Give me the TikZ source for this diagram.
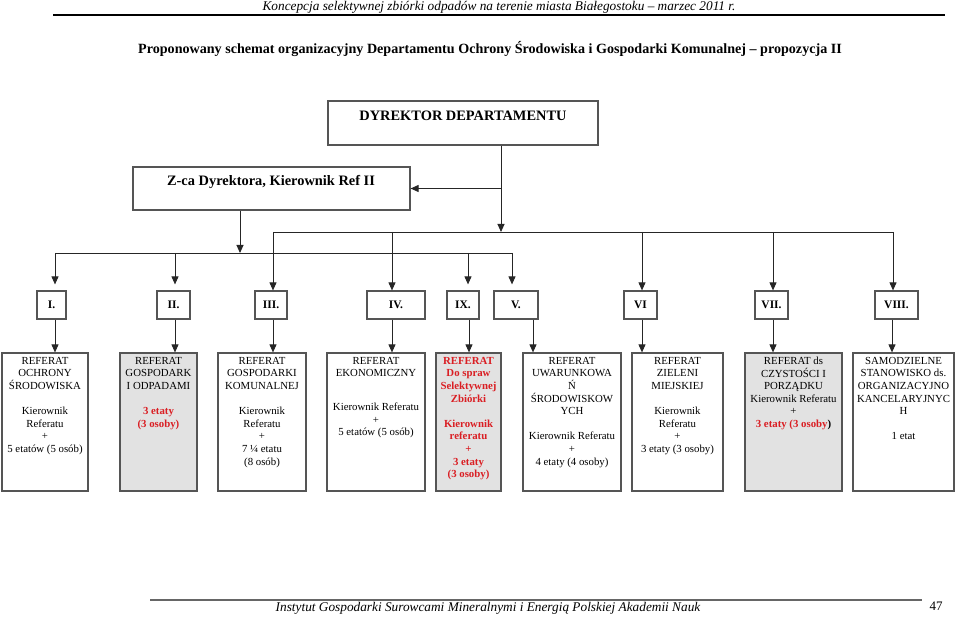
\documentclass[tikz,border=0pt]{standalone}
\usepackage{fontspec}
\setmainfont{Liberation Serif}
\usetikzlibrary{arrows.meta}
\definecolor{redt}{RGB}{218,30,35}
\definecolor{greyf}{RGB}{226,226,226}
\definecolor{edgec}{RGB}{85,85,85}
\tikzset{
  box/.style={draw=edgec,line width=1.2pt,inner sep=0pt,anchor=center},
  lvl/.style={box,minimum height=28pt,font=\fontsize{11.5}{13}\selectfont\bfseries},
  big/.style={box,minimum height=138pt},
  top/.style={box,minimum height=44pt,font=\fontsize{14.4}{16}\selectfont\bfseries},
  txt/.style={anchor=north,align=center,inner sep=0pt,font=\fontsize{10.8}{12.6}\selectfont},
  rtxt/.style={txt,text=redt,font=\fontsize{10.8}{12.6}\selectfont\bfseries},
  arr/.style={draw=black!85,line width=0.9pt,-{Triangle[width=7pt,length=8pt]}},
  ln/.style={draw=black!85,line width=0.9pt},
}
\newcommand\dn[3]{\draw[arr] ([xshift=#3pt]#1.south) -- ([xshift=#3pt]#1.south |- #2.north);}
\begin{document}
\begin{tikzpicture}[x=1pt,y=-1pt]
\useasboundingbox (0,0) rectangle (960,617);
% header
\node[inner sep=0pt,font=\fontsize{13.3}{15}\selectfont\itshape] (hdr) at (499,7) {Koncepcja selektywnej zbiórki odpadów na terenie miasta Białegostoku – marzec 2011 r.};
\draw[line width=1.3pt] (53,15) -- (945,15);
\node[inner sep=0pt,font=\fontsize{14.1}{16}\selectfont\bfseries] (title) at (490,49) {Proponowany schemat organizacyjny Departamentu Ochrony Środowiska i Gospodarki Komunalnej – propozycja II};
% top boxes
\node[top,minimum width=270pt] (dyr) at (463,123) {};
\node[inner sep=0pt,font=\fontsize{14.4}{16}\selectfont\bfseries] (dyrt) at (463,116) {DYREKTOR DEPARTAMENTU};
\node[top,minimum width=277pt,minimum height=43pt] (zca) at (271.5,188.5) {};
\node[inner sep=0pt,font=\fontsize{14.4}{16}\selectfont\bfseries] (zcat) at (271,182) {Z-ca Dyrektora, Kierownik Ref II};
% bus coordinates
\coordinate (br) at (501,188.5);
\coordinate (busU) at (501,232);
\coordinate (uL) at (273,232);
\coordinate (uR) at (893,232);
\coordinate (zd) at (240,253);
\coordinate (lL) at (55,253);
\coordinate (lR) at (512,253);
% level boxes
\node[lvl,minimum width=29pt] (l1) at (51.5,305) {I.};
\node[lvl,minimum width=33pt] (l2) at (173.5,305) {II.};
\node[lvl,minimum width=32pt] (l3) at (271,305) {III.};
\node[lvl,minimum width=58pt] (l4) at (396,305) {IV.};
\node[lvl,minimum width=32pt] (l5) at (463,305) {IX.};
\node[lvl,minimum width=44pt] (l6) at (516,305) {V.};
\node[lvl,minimum width=33pt] (l7) at (640.5,305) {VI};
\node[lvl,minimum width=33pt] (l8) at (771.5,305) {VII.};
\node[lvl,minimum width=43pt] (l9) at (896.5,305) {VIII.};
% big boxes
\node[big,minimum width=86pt] (b1) at (45,422) {};
\node[big,minimum width=77pt,fill=greyf] (b2) at (158.5,422) {};
\node[big,minimum width=88pt] (b3) at (262,422) {};
\node[big,minimum width=98pt] (b4) at (376,422) {};
\node[big,minimum width=65pt,fill=greyf] (b5) at (468.5,422) {};
\node[big,minimum width=98pt] (b6) at (572,422) {};
\node[big,minimum width=91pt] (b7) at (677.5,422) {};
\node[big,minimum width=97pt,fill=greyf] (b8) at (793.5,422) {};
\node[big,minimum width=101pt] (b9) at (903.5,422) {};
% texts
\node[txt] (t1) at ([yshift=-4.5pt]b1.north) {REFERAT\\OCHRONY\\ŚRODOWISKA\\[12.6pt]Kierownik\\Referatu\\+\\5 etatów (5 osób)};
\node[txt] (t2) at ([yshift=-4.5pt]b2.north) {REFERAT\\GOSPODARK\\I ODPADAMI\\[12.6pt]{\color{redt}\bfseries 3 etaty}\\{\color{redt}\bfseries (3 osoby)}};
\node[txt] (t3) at ([yshift=-4.5pt]b3.north) {REFERAT\\GOSPODARKI\\KOMUNALNEJ\\[12.6pt]Kierownik\\Referatu\\+\\7 ¼ etatu\\(8 osób)};
\node[txt] (t4) at ([yshift=-4.5pt]b4.north) {REFERAT\\EKONOMICZNY\\[21pt]Kierownik Referatu\\+\\5 etatów (5 osób)};
\node[rtxt] (t5) at ([yshift=-4.5pt]b5.north) {REFERAT\\Do spraw\\Selektywnej\\Zbiórki\\[12.6pt]Kierownik\\referatu\\+\\3 etaty\\(3 osoby)};
\node[txt] (t6) at ([yshift=-4.5pt]b6.north) {REFERAT\\UWARUNKOWA\\Ń\\ŚRODOWISKOW\\YCH\\[12.6pt]Kierownik Referatu\\+\\4 etaty (4 osoby)};
\node[txt] (t7) at ([yshift=-4.5pt]b7.north) {REFERAT\\ZIELENI\\MIEJSKIEJ\\[12.6pt]Kierownik\\Referatu\\+\\3 etaty (3 osoby)};
\node[txt] (t8) at ([yshift=-4.5pt]b8.north) {REFERAT ds\\CZYSTOŚCI I\\PORZĄDKU\\Kierownik Referatu\\+\\{\bfseries\color{redt}3 etaty (3 osoby}{\bfseries )}};
\node[txt] (t9) at ([yshift=-4.5pt]b9.north) {SAMODZIELNE\\STANOWISKO ds.\\ORGANIZACYJNO\\KANCELARYJNYC\\H\\[12.6pt]1 etat};
% connectors top
\draw[arr] (dyr.south -| busU) -- (busU);
\draw[arr] (br) -- (zca.east);
\draw[arr] (zca.south -| zd) -- (zd);
\draw[ln] (uL) -- (uR);
\draw[ln] (lL) -- (lR);
% lower bus drops
\draw[arr,shorten >=6pt] (lL) -- (lL |- l1.north);
\draw[arr,shorten >=6pt] ([xshift=1.5pt]l2.north |- lL) -- ([xshift=1.5pt]l2.north);
\draw[arr,shorten >=6pt] ([xshift=5pt]l5.north |- lL) -- ([xshift=5pt]l5.north);
\draw[arr,shorten >=6pt] (lR) -- (lR |- l6.north);
% upper bus drops
\draw[arr] (uL) -- (uL |- l3.north);
\draw[arr] ([xshift=-4pt]l4.north |- uL) -- ([xshift=-4pt]l4.north);
\draw[arr] ([xshift=1.5pt]l7.north |- uL) -- ([xshift=1.5pt]l7.north);
\draw[arr] ([xshift=1.5pt]l8.north |- uL) -- ([xshift=1.5pt]l8.north);
\draw[arr] (uR) -- (uR |- l9.north);
% level to referat
\dn{l1}{b1}{3.5}
\dn{l2}{b2}{1.5}
\dn{l3}{b3}{2}
\dn{l4}{b4}{-4}
\dn{l5}{b5}{6}
\dn{l6}{b6}{17}
\dn{l7}{b7}{1.5}
\dn{l8}{b8}{1.5}
\dn{l9}{b9}{-4.5}
% footer
\draw[draw=black!60,line width=1.3pt] (150,600) -- (922,600);
\node[inner sep=0pt,font=\fontsize{13.3}{15}\selectfont\itshape] (ftr) at (488,608) {Instytut Gospodarki Surowcami Mineralnymi i Energią Polskiej Akademii Nauk};
\node[inner sep=0pt,font=\fontsize{13}{15}\selectfont] (pg) at (936,606) {47};
\end{tikzpicture}
\end{document}
